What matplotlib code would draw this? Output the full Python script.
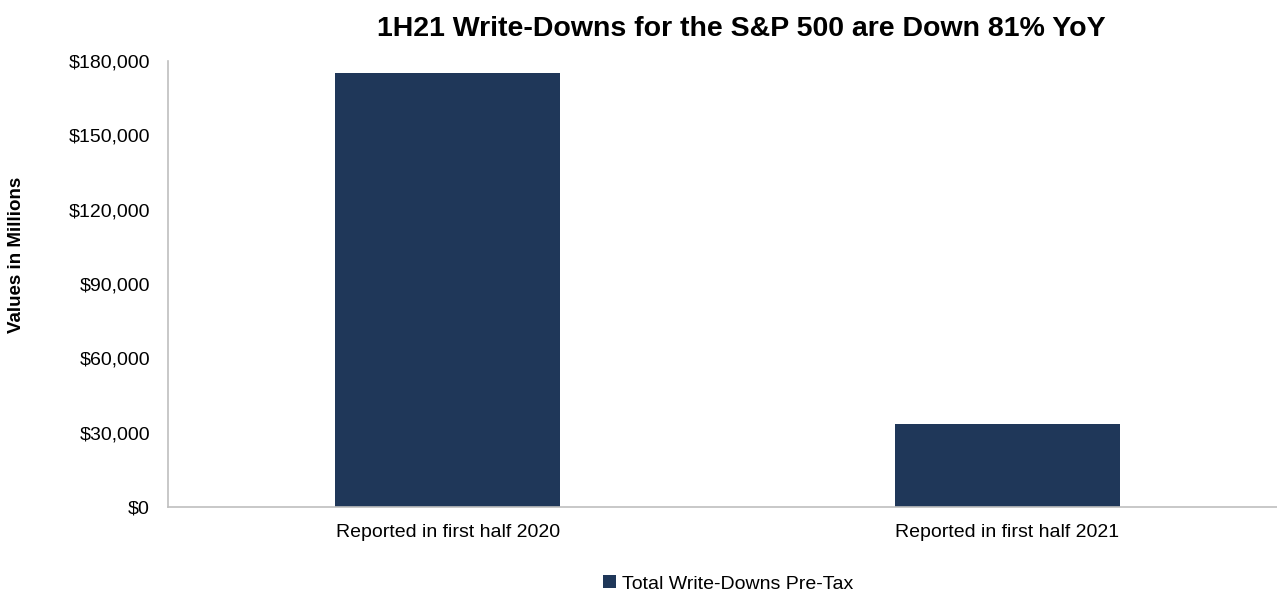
import matplotlib.pyplot as plt
from matplotlib.ticker import FuncFormatter

plt.rcParams["font.family"] = ["Liberation Sans", "DejaVu Sans"]

# Data (values in millions)
periods = ["Reported in first half 2020", "Reported in first half 2021"]
write_downs = [175300, 33500]
series_name = "Total Write-Downs Pre-Tax"

fig = plt.figure(figsize=(12.77, 5.96), dpi=100)
ax = fig.add_axes([168 / 1277, 1 - 507 / 596, 1119 / 1277, 446 / 596])

ax.bar(range(len(periods)), write_downs, width=0.4025, color="#1F3759", label=series_name)

ax.set_xlim(-0.5, 1.5)
ax.set_ylim(0, 180000)
ax.set_yticks(range(0, 180001, 30000))
ax.yaxis.set_major_formatter(FuncFormatter(lambda v, p: "${:,.0f}".format(v)))
ax.set_xticks(range(len(periods)))
ax.set_xticklabels(periods)
ax.tick_params(axis="both", length=0, labelsize=14)
ax.tick_params(axis="y", pad=13)
ax.tick_params(axis="x", pad=12)

for side in ["top", "right"]:
    ax.spines[side].set_visible(False)
for side in ["left", "bottom"]:
    ax.spines[side].set_color("#BFBFBF")
    ax.spines[side].set_linewidth(1.2)

# axis title and chart title
fig.text(17 / 1277, 1 - 255 / 596, "Values in Millions", rotation=90,
         ha="center", va="center", fontsize=13.5, fontweight="bold")

fig.text(741 / 1277, 1 - 29 / 596, "1H21 Write-Downs for the S&P 500 are Down 81% YoY",
         ha="center", va="center", fontsize=20.5, fontweight="bold")

fig.legend(loc="center", bbox_to_anchor=(728 / 1277, 1 - 584 / 596), frameon=False,
           fontsize=14, handlelength=0.65, handleheight=0.65, handletextpad=0.3)

fig.savefig("out.png", dpi=100)
